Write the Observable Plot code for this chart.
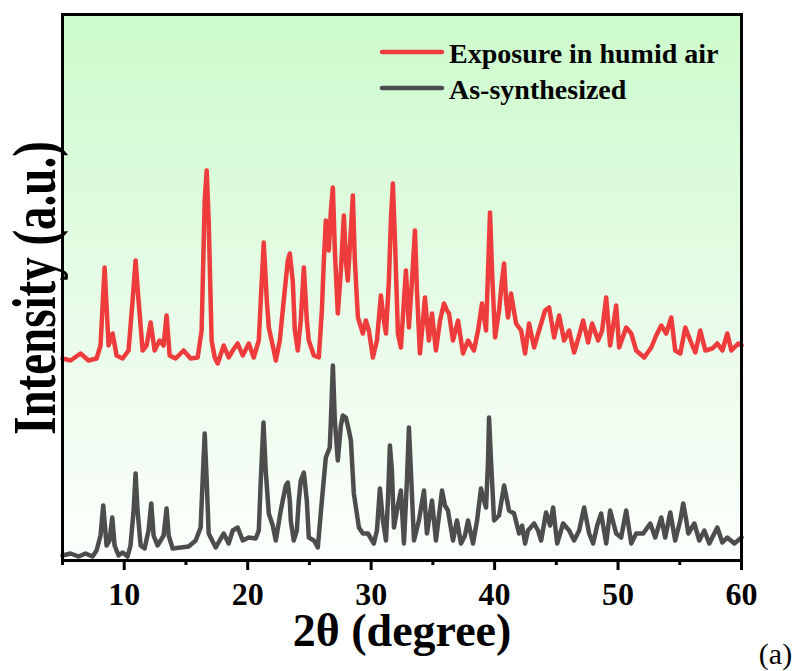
<!DOCTYPE html>
<html>
<head>
<meta charset="utf-8">
<script src="https://cdn.jsdelivr.net/npm/d3@7"></script>
<script src="https://cdn.jsdelivr.net/npm/@observablehq/plot@0.6"></script>
<style>
  body { margin: 0; background: #fff; }
  #chart { position: absolute; left: 0; top: 0; }
</style>
</head>
<body>
<div id="chart"></div>
<script>
// XRD patterns: [2θ (degree), intensity (a.u.)]; the humid-air pattern is stacked above the as-synthesized one.
const humidAir = [
  [5.00,202],[5.65,200],[6.46,207],[7.11,200],[7.76,202],[8.08,215],[8.41,293],[8.73,215],[9.06,227],[9.38,205],
  [9.87,202],[10.35,210],[10.68,260],[10.92,300],[11.16,260],[11.49,210],[11.81,215],[12.14,238],[12.46,210],[12.87,220],
  [13.19,215],[13.43,245],[13.68,205],[14.16,202],[14.81,210],[15.38,202],[15.95,203],[16.27,230],[16.52,360],[16.68,390],
  [16.84,340],[17.08,220],[17.33,203],[17.57,197],[18.06,215],[18.46,203],[18.79,210],[19.19,217],[19.60,205],[20.09,217],
  [20.49,203],[20.90,220],[21.06,260],[21.30,318],[21.55,260],[21.71,233],[22.03,215],[22.28,200],[22.60,220],[22.92,260],
  [23.25,300],[23.41,307],[23.65,280],[23.82,230],[24.06,210],[24.30,240],[24.55,293],[24.79,240],[24.95,220],[25.36,205],
  [25.76,203],[26.01,250],[26.17,300],[26.33,340],[26.57,310],[26.74,350],[26.90,373],[27.06,310],[27.30,247],[27.55,290],
  [27.79,345],[27.95,300],[28.11,280],[28.36,330],[28.52,365],[28.68,300],[28.93,243],[29.33,227],[29.57,240],[29.82,230],
  [30.14,203],[30.47,220],[30.79,265],[31.03,240],[31.20,227],[31.44,280],[31.60,340],[31.76,377],[31.93,320],[32.17,227],
  [32.41,213],[32.66,260],[32.82,290],[33.06,233],[33.31,280],[33.55,330],[33.71,270],[33.95,207],[34.20,240],[34.36,263],
  [34.52,240],[34.68,220],[34.93,247],[35.25,210],[35.58,240],[35.90,257],[36.14,250],[36.31,247],[36.63,220],[37.04,240],
  [37.44,207],[37.85,220],[38.33,210],[38.66,230],[38.98,257],[39.31,230],[39.47,290],[39.63,348],[39.79,290],[40.04,223],
  [40.36,250],[40.60,280],[40.77,297],[40.93,260],[41.09,243],[41.33,267],[41.74,237],[42.15,230],[42.47,207],[42.79,237],
  [43.20,213],[43.60,230],[44.09,250],[44.42,253],[44.82,223],[45.23,245],[45.63,220],[46.04,230],[46.44,208],[46.85,225],
  [47.17,240],[47.58,218],[47.90,237],[48.39,220],[48.71,230],[49.04,263],[49.36,215],[49.85,255],[50.09,213],[50.66,233],
  [51.07,227],[51.47,210],[52.12,203],[52.69,213],[53.09,225],[53.50,235],[53.90,227],[54.31,243],[54.63,210],[55.04,207],
  [55.45,233],[55.85,220],[56.26,208],[56.66,230],[57.07,210],[57.64,212],[58.04,217],[58.45,210],[58.85,227],[59.18,210],
  [59.74,217],[60.00,215]
];

const asSynthesized = [
  [5.00,5],[5.65,7],[6.30,4],[6.87,7],[7.43,4],[7.76,10],[8.08,25],[8.30,55],[8.57,15],[8.81,20],
  [9.03,43],[9.22,15],[9.54,5],[9.87,8],[10.27,4],[10.51,15],[10.76,50],[10.92,87],[11.08,50],[11.33,15],
  [11.65,12],[11.97,30],[12.19,57],[12.38,25],[12.70,15],[12.95,20],[13.19,25],[13.43,52],[13.60,25],[13.92,12],
  [14.57,13],[15.22,14],[15.79,20],[16.19,33],[16.35,80],[16.52,127],[16.68,80],[16.84,27],[17.41,13],[17.73,20],
  [18.06,27],[18.46,17],[18.79,30],[19.19,33],[19.60,20],[20.09,23],[20.65,22],[20.90,30],[21.06,80],[21.28,138],
  [21.46,90],[21.71,47],[22.03,35],[22.28,20],[22.68,50],[22.84,60],[23.09,75],[23.25,78],[23.41,60],[23.49,40],
  [23.73,20],[23.98,30],[24.14,60],[24.30,80],[24.55,88],[24.79,60],[24.95,23],[25.36,20],[25.68,13],[26.01,60],
  [26.33,103],[26.65,113],[26.74,140],[26.90,195],[27.06,140],[27.30,100],[27.55,135],[27.71,145],[27.95,143],[28.20,130],
  [28.36,120],[28.60,67],[29.01,33],[29.33,27],[29.74,27],[30.22,17],[30.47,30],[30.71,72],[30.95,40],[31.20,20],
  [31.36,60],[31.52,115],[31.68,90],[31.85,33],[32.09,50],[32.41,70],[32.66,17],[32.90,80],[33.06,133],[33.22,90],
  [33.47,20],[33.87,40],[34.28,70],[34.52,27],[34.93,60],[35.25,20],[35.50,45],[35.74,70],[35.98,55],[36.22,50],
  [36.63,20],[36.95,40],[37.28,17],[37.60,25],[37.85,40],[38.25,17],[38.58,40],[38.90,72],[39.14,60],[39.31,53],
  [39.47,100],[39.55,143],[39.71,100],[39.96,40],[40.36,45],[40.77,75],[41.01,60],[41.17,50],[41.58,47],[41.98,27],
  [42.23,35],[42.47,17],[42.71,30],[43.20,37],[43.52,30],[43.77,20],[44.17,48],[44.50,35],[44.74,53],[45.07,17],
  [45.55,37],[46.04,30],[46.44,20],[46.85,30],[47.25,53],[47.66,27],[47.98,17],[48.31,35],[48.63,47],[49.04,17],
  [49.36,50],[49.85,27],[50.25,23],[50.66,50],[51.07,17],[51.47,27],[52.04,27],[52.61,37],[53.01,23],[53.50,43],
  [53.82,23],[54.23,48],[54.63,20],[55.04,40],[55.28,57],[55.53,40],[55.69,27],[56.18,37],[56.58,20],[56.99,30],
  [57.39,17],[58.04,33],[58.45,18],[58.85,23],[59.42,17],[60.00,23]
];

const seriesNames = ["Exposure in humid air", "As-synthesized"];
const seriesColors = ["#EE3B3B", "#4D4D4D"];
const majorTicks = [10, 20, 30, 40, 50, 60];
const minorTicks = [5, 15, 25, 35, 45, 55];

const serif = '"Times New Roman", "Liberation Serif", serif';

const rows = [
  ...humidAir.map(([theta, intensity]) => ({theta, intensity, series: seriesNames[0]})),
  ...asSynthesized.map(([theta, intensity]) => ({theta, intensity, series: seriesNames[1]}))
];

const chart = Plot.plot({
  width: 798,
  height: 671,
  marginLeft: 62,
  marginRight: 57,
  marginTop: 14,
  marginBottom: 111,
  style: {fontFamily: serif, background: "white", overflow: "visible"},
  x: {domain: [5, 60], label: null},
  y: {domain: [0, 546], axis: null, label: null},
  color: {domain: seriesNames, range: seriesColors},
  marks: [
    Plot.frame({fill: "url(#plotAreaGradient)"}),
    Plot.line(rows, {
      x: "theta", y: "intensity", z: "series", stroke: "series",
      strokeWidth: 4.5, strokeLinejoin: "round", strokeLinecap: "round"
    }),
    Plot.axisX(minorTicks, {tickSize: 5, strokeWidth: 3, tickFormat: () => "", label: null}),
    Plot.axisX(majorTicks, {
      tickSize: 10, strokeWidth: 3, tickPadding: 12, label: null,
      fontSize: 32, fontWeight: "bold", fill: "black"
    }),
    Plot.frame({stroke: "black", strokeWidth: 3}),
    Plot.text(["2θ (degree)"], {
      frameAnchor: "bottom", dy: 85, lineAnchor: "bottom", textAnchor: "middle",
      fontSize: 46, fontWeight: "bold", fill: "black"
    }),
    Plot.text(["(a)"], {
      frameAnchor: "bottom-right", dx: 34, dy: 103, lineAnchor: "bottom", textAnchor: "middle",
      fontSize: 30, fill: "black"
    })
  ]
});

const svg = d3.select(chart);

// Green-to-white vertical gradient behind the patterns
const grad = svg.insert("defs", ":first-child")
  .append("linearGradient")
  .attr("id", "plotAreaGradient")
  .attr("x1", 0).attr("y1", 0).attr("x2", 0).attr("y2", 1);
grad.append("stop").attr("offset", "0%").attr("stop-color", "#ccfbcc");
grad.append("stop").attr("offset", "55%").attr("stop-color", "#e8fbe8");
grad.append("stop").attr("offset", "100%").attr("stop-color", "#fcfffc");

// Vertical axis title, glyphs drawn tall across the left margin
svg.append("text")
  .attr("transform", "translate(55,288) rotate(-90) scale(1,1.3)")
  .attr("text-anchor", "middle")
  .attr("font-family", serif)
  .attr("font-weight", "bold")
  .attr("font-size", 47)
  .attr("fill", "black")
  .text("Intensity (a.u.)");

// Legend in the upper-right corner of the plot area
const legend = svg.append("g")
  .attr("font-family", serif)
  .attr("font-weight", "bold")
  .attr("font-size", 28)
  .attr("text-anchor", "start");
seriesNames.forEach((name, i) => {
  const y = 52 + 36 * i;
  legend.append("line")
    .attr("x1", 382).attr("x2", 442).attr("y1", y).attr("y2", y)
    .attr("stroke", seriesColors[i]).attr("stroke-width", 4.5).attr("stroke-linecap", "round");
  legend.append("text")
    .attr("x", 449).attr("y", y + 10.5)
    .attr("fill", "black")
    .text(name);
});

document.getElementById("chart").appendChild(chart);
</script>
</body>
</html>
